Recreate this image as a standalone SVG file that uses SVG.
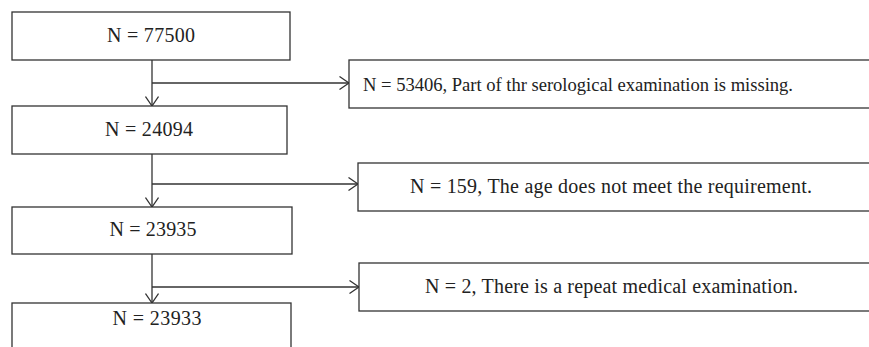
<svg xmlns="http://www.w3.org/2000/svg" width="869" height="347" viewBox="0 0 869 347">
<defs>
<style>
.box{fill:#fff;stroke:#333;stroke-width:1.3}
.t{font-family:"Liberation Serif","Times New Roman",serif;font-size:20px;fill:#222}
.c{text-anchor:middle}
.s{font-size:18.6px}
.ln{fill:none;stroke:#333;stroke-width:1.3}
</style>
<marker id="ah" markerUnits="userSpaceOnUse" viewBox="0 0 10 14" refX="10" refY="7" markerWidth="10" markerHeight="14" orient="auto">
<path d="M0.5,0.5 L10,7 L0.5,13.5" fill="none" stroke="#333" stroke-width="1.3"/>
</marker>
</defs>
<rect width="869" height="347" fill="#fff"/>
<g id="connectors">
<path class="ln" d="M152,60 V106" marker-end="url(#ah)"/>
<path class="ln" d="M152,83 H349" marker-end="url(#ah)"/>
<path class="ln" d="M152,154 V207" marker-end="url(#ah)"/>
<path class="ln" d="M152,184 H358" marker-end="url(#ah)"/>
<path class="ln" d="M152,254 V303" marker-end="url(#ah)"/>
<path class="ln" d="M152,287 H359" marker-end="url(#ah)"/>
</g>
<g id="n1"><rect class="box" x="12" y="12" width="278" height="48"/><text class="t c" x="151" y="42" textLength="88">N = 77500</text></g>
<g id="n2"><rect class="box" x="12" y="106" width="275" height="48"/><text class="t c" x="149" y="136" textLength="88">N = 24094</text></g>
<g id="n3"><rect class="box" x="12" y="207" width="280" height="47"/><text class="t c" x="153" y="236" textLength="87">N = 23935</text></g>
<g id="n4"><rect class="box" x="12" y="303" width="279" height="60"/><text class="t c" x="157" y="325" textLength="89">N = 23933</text></g>
<g id="e1"><rect class="box" x="349" y="60" width="540" height="48"/><text class="t s" x="363" y="91" textLength="430">N = 53406, Part of thr serological examination is missing.</text></g>
<g id="e2"><rect class="box" x="358" y="163" width="530" height="48"/><text class="t" x="410" y="193" textLength="402">N = 159, The age does not meet the requirement.</text></g>
<g id="e3"><rect class="box" x="359" y="263" width="530" height="48"/><text class="t" x="425" y="293" textLength="373">N = 2, There is a repeat medical examination.</text></g>
</svg>
